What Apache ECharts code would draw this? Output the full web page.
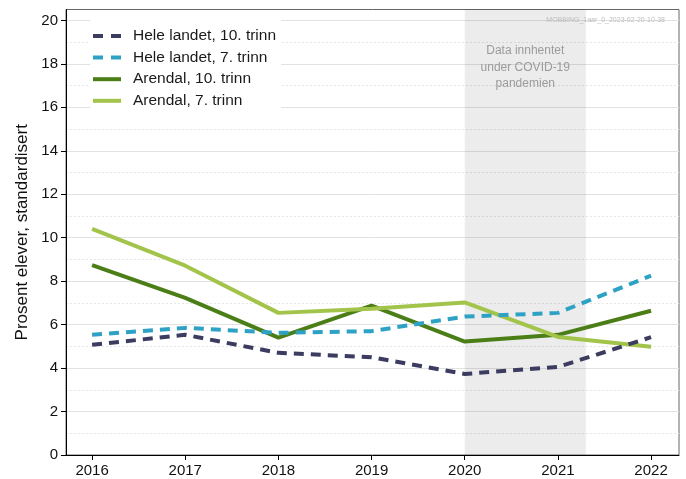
<!DOCTYPE html>
<html>
<head>
<meta charset="utf-8">
<script src="https://cdn.jsdelivr.net/npm/echarts@6/dist/echarts.min.js"></script>
<style>html,body{margin:0;padding:0;background:#fff}#c{width:686px;height:479px}</style>
</head>
<body>
<div id="c"></div>
<script>
const years = [2016, 2017, 2018, 2019, 2020, 2021, 2022];
const heleLandet10 = [5.07, 5.53, 4.70, 4.50, 3.73, 4.05, 5.42];
const heleLandet7 = [5.53, 5.85, 5.62, 5.70, 6.37, 6.54, 8.25];
const arendal10 = [8.74, 7.23, 5.40, 6.87, 5.22, 5.53, 6.64];
const arendal7 = [10.41, 8.71, 6.54, 6.73, 7.02, 5.43, 4.98];
const yTicks = [0, 2, 4, 6, 8, 10, 12, 14, 16, 18, 20];
const yMinor = [1, 3, 5, 7, 9, 11, 13, 15, 17, 19];
const covidStart = 2020;
const covidEnd = 2021.3;
const covidText = 'Data innhentet\nunder COVID-19\npandemien';
const seriesNames = ['Hele landet, 10. trinn', 'Hele landet, 7. trinn', 'Arendal, 10. trinn', 'Arendal, 7. trinn'];
const watermark = 'MOBBING_1aar_0_2023-02-20-10-38';

const pair = arr => arr.map((v, i) => [years[i], v]);
const font = 'Liberation Sans, Arial, sans-serif';
const dashIcon = 'path://M0,0h10v4h-10zM18,0h10v4h-10z';
const solidIcon = 'path://M0,0h28v4h-28z';

const chart = echarts.init(document.getElementById('c'), null, {renderer: 'canvas'});
chart.setOption({
  animation: false,
  backgroundColor: '#fff',
  textStyle: {fontFamily: font},
  title: {
    text: watermark, right: 16, top: 12,
    textStyle: {fontSize: 7, fontWeight: 'normal', color: '#bdbdbd', fontFamily: font}
  },
  grid: {left: 66, right: 7, top: 9.5, bottom: 24, show: true, borderColor: '#666', borderWidth: 1, containLabel: false},
  legend: {
    orient: 'vertical', left: 90, top: 16,
    padding: [12, 5, 6, 3],
    backgroundColor: '#fff',
    itemWidth: 28, itemHeight: 4, itemGap: 5.6,
    textStyle: {fontSize: 15.5, color: '#1a1a1a', fontFamily: font, padding: [0, 0, 0, 7]},
    data: [
      {name: seriesNames[0], icon: dashIcon},
      {name: seriesNames[1], icon: dashIcon},
      {name: seriesNames[2], icon: solidIcon},
      {name: seriesNames[3], icon: solidIcon}
    ]
  },
  xAxis: {
    type: 'value', min: 2015.72, max: 2022.3,
    axisLine: {show: true, onZero: false, lineStyle: {color: '#000', width: 1}},
    axisTick: {show: true, length: 5, lineStyle: {color: '#000'}, customValues: years},
    axisLabel: {fontSize: 15, color: '#111', margin: 8, customValues: years, formatter: v => String(v), fontFamily: font},
    splitLine: {show: false}
  },
  yAxis: [{
    type: 'value', min: 0, max: 20.5,
    name: 'Prosent elever, standardisert', nameLocation: 'middle', nameGap: 31,
    nameTextStyle: {fontSize: 17, color: '#111', fontFamily: font},
    axisLine: {show: true, onZero: false, lineStyle: {color: '#000', width: 1}},
    axisTick: {show: true, length: 5, lineStyle: {color: '#000'}, customValues: yTicks},
    axisLabel: {fontSize: 15, color: '#111', margin: 8, customValues: yTicks, fontFamily: font},
    splitLine: {show: true, lineStyle: {color: '#e2e2e2', width: 1}}
  }, {
    type: 'value', min: 0, max: 20.5, position: 'left',
    axisLine: {show: false},
    axisTick: {show: false, customValues: yMinor},
    axisLabel: {show: false, customValues: yMinor},
    splitLine: {show: true, lineStyle: {color: '#e6e6e6', width: 1, type: [2, 2]}}
  }],
  series: [
    {
      name: seriesNames[0], type: 'line', data: pair(heleLandet10), symbol: 'none', z: 5,
      lineStyle: {color: '#3b3c5f', width: 4, type: [10, 7], cap: 'butt'},
      itemStyle: {color: '#3b3c5f'},
      markArea: {
        silent: true,
        itemStyle: {color: 'rgba(0,0,0,0.075)'},
        label: {show: true, position: 'insideTop', distance: 33, color: '#9b9b9b', fontSize: 12, lineHeight: 16.5, fontFamily: font, align: 'center'},
        data: [[{xAxis: covidStart, name: covidText}, {xAxis: covidEnd}]]
      }
    },
    {
      name: seriesNames[1], type: 'line', data: pair(heleLandet7), symbol: 'none', z: 5,
      lineStyle: {color: '#2ea2c4', width: 4, type: [10, 7], cap: 'butt'},
      itemStyle: {color: '#2ea2c4'}
    },
    {
      name: seriesNames[2], type: 'line', data: pair(arendal10), symbol: 'none', z: 4,
      lineStyle: {color: '#4c7e18', width: 4},
      itemStyle: {color: '#4c7e18'}
    },
    {
      name: seriesNames[3], type: 'line', data: pair(arendal7), symbol: 'none', z: 4,
      lineStyle: {color: '#a3c44b', width: 4},
      itemStyle: {color: '#a3c44b'}
    }
  ]
});
</script>
</body>
</html>
